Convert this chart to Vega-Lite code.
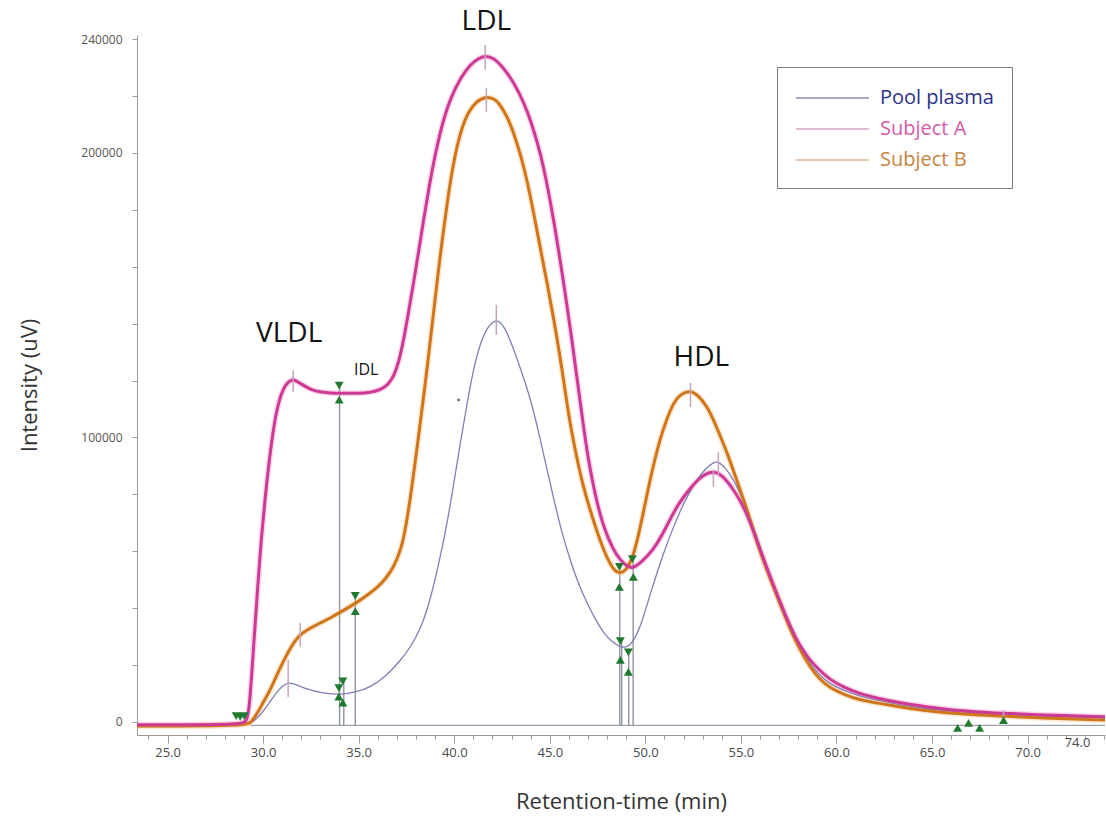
{
  "$schema": "https://vega.github.io/schema/vega-lite/v6.json",
  "width": 968,
  "height": 700,
  "autosize": "none",
  "padding": {"left": 137, "top": 35, "right": 1, "bottom": 96},
  "background": "white",
  "config": {"view": {"stroke": null}, "font": "Open Sans"},
  "datasets": {
    "curves": [
      {"s": "Pool plasma", "t": 23.4, "v": -1000}, {"s": "Pool plasma", "t": 29.11, "v": -1000}, {"s": "Pool plasma", "t": 29.48, "v": 0}, {"s": "Pool plasma", "t": 29.9, "v": 2800}, {"s": "Pool plasma", "t": 30.31, "v": 6700}, {"s": "Pool plasma", "t": 30.68, "v": 10200}, {"s": "Pool plasma", "t": 31.04, "v": 12900}, {"s": "Pool plasma", "t": 31.36, "v": 14000}, {"s": "Pool plasma", "t": 31.72, "v": 13200}, {"s": "Pool plasma", "t": 32.25, "v": 11600}, {"s": "Pool plasma", "t": 33.03, "v": 10200}, {"s": "Pool plasma", "t": 34.07, "v": 9500}, {"s": "Pool plasma", "t": 34.86, "v": 10500}, {"s": "Pool plasma", "t": 35.64, "v": 12300}, {"s": "Pool plasma", "t": 36.42, "v": 16000}, {"s": "Pool plasma", "t": 37.21, "v": 21800}, {"s": "Pool plasma", "t": 37.73, "v": 26500}, {"s": "Pool plasma", "t": 38.25, "v": 33000}, {"s": "Pool plasma", "t": 38.62, "v": 40100}, {"s": "Pool plasma", "t": 38.98, "v": 49500}, {"s": "Pool plasma", "t": 39.3, "v": 59000}, {"s": "Pool plasma", "t": 39.66, "v": 71000}, {"s": "Pool plasma", "t": 39.97, "v": 83500}, {"s": "Pool plasma", "t": 40.34, "v": 99000}, {"s": "Pool plasma", "t": 40.71, "v": 113500}, {"s": "Pool plasma", "t": 41.02, "v": 124500}, {"s": "Pool plasma", "t": 41.38, "v": 133500}, {"s": "Pool plasma", "t": 41.75, "v": 139000}, {"s": "Pool plasma", "t": 42.22, "v": 142000}, {"s": "Pool plasma", "t": 42.64, "v": 139000}, {"s": "Pool plasma", "t": 43.11, "v": 131000}, {"s": "Pool plasma", "t": 43.53, "v": 123000}, {"s": "Pool plasma", "t": 43.99, "v": 113500}, {"s": "Pool plasma", "t": 44.36, "v": 103500}, {"s": "Pool plasma", "t": 44.78, "v": 91000}, {"s": "Pool plasma", "t": 45.2, "v": 78500}, {"s": "Pool plasma", "t": 45.61, "v": 67000}, {"s": "Pool plasma", "t": 46.08, "v": 56500}, {"s": "Pool plasma", "t": 46.5, "v": 48500}, {"s": "Pool plasma", "t": 46.97, "v": 41500}, {"s": "Pool plasma", "t": 47.39, "v": 36000}, {"s": "Pool plasma", "t": 47.81, "v": 31300}, {"s": "Pool plasma", "t": 48.28, "v": 28000}, {"s": "Pool plasma", "t": 48.69, "v": 26200}, {"s": "Pool plasma", "t": 49.06, "v": 26200}, {"s": "Pool plasma", "t": 49.37, "v": 28300}, {"s": "Pool plasma", "t": 49.74, "v": 33400}, {"s": "Pool plasma", "t": 50.1, "v": 41500}, {"s": "Pool plasma", "t": 50.52, "v": 50600}, {"s": "Pool plasma", "t": 50.94, "v": 59200}, {"s": "Pool plasma", "t": 51.41, "v": 67500}, {"s": "Pool plasma", "t": 51.83, "v": 74300}, {"s": "Pool plasma", "t": 52.25, "v": 80100}, {"s": "Pool plasma", "t": 52.72, "v": 85300}, {"s": "Pool plasma", "t": 53.13, "v": 89000}, {"s": "Pool plasma", "t": 53.55, "v": 91200}, {"s": "Pool plasma", "t": 53.81, "v": 91600}, {"s": "Pool plasma", "t": 54.18, "v": 89500}, {"s": "Pool plasma", "t": 54.6, "v": 85300}, {"s": "Pool plasma", "t": 54.96, "v": 80500}, {"s": "Pool plasma", "t": 55.33, "v": 74500}, {"s": "Pool plasma", "t": 56.01, "v": 61500}, {"s": "Pool plasma", "t": 56.53, "v": 51300}, {"s": "Pool plasma", "t": 57.05, "v": 41800}, {"s": "Pool plasma", "t": 57.57, "v": 33400}, {"s": "Pool plasma", "t": 58.09, "v": 26200}, {"s": "Pool plasma", "t": 58.62, "v": 20400}, {"s": "Pool plasma", "t": 59.14, "v": 16200}, {"s": "Pool plasma", "t": 59.66, "v": 13400}, {"s": "Pool plasma", "t": 60.34, "v": 11200}, {"s": "Pool plasma", "t": 61.23, "v": 9100}, {"s": "Pool plasma", "t": 62.12, "v": 7700}, {"s": "Pool plasma", "t": 63.32, "v": 6000}, {"s": "Pool plasma", "t": 64.73, "v": 4600}, {"s": "Pool plasma", "t": 66.45, "v": 3500}, {"s": "Pool plasma", "t": 68.54, "v": 2800}, {"s": "Pool plasma", "t": 70.63, "v": 2100}, {"s": "Pool plasma", "t": 74.05, "v": 1400},

      {"s": "Subject B", "t": 23.4, "v": -1400}, {"s": "Subject B", "t": 26.76, "v": -1400}, {"s": "Subject B", "t": 29.11, "v": -1000}, {"s": "Subject B", "t": 29.37, "v": -350}, {"s": "Subject B", "t": 29.79, "v": 4200}, {"s": "Subject B", "t": 30.0, "v": 6900}, {"s": "Subject B", "t": 30.42, "v": 11800}, {"s": "Subject B", "t": 30.84, "v": 18500}, {"s": "Subject B", "t": 31.36, "v": 25300}, {"s": "Subject B", "t": 31.67, "v": 28600}, {"s": "Subject B", "t": 31.98, "v": 31000}, {"s": "Subject B", "t": 32.51, "v": 33200}, {"s": "Subject B", "t": 33.03, "v": 34900}, {"s": "Subject B", "t": 33.55, "v": 36700}, {"s": "Subject B", "t": 34.07, "v": 38700}, {"s": "Subject B", "t": 34.86, "v": 41800}, {"s": "Subject B", "t": 35.38, "v": 44200}, {"s": "Subject B", "t": 36.01, "v": 47500}, {"s": "Subject B", "t": 36.42, "v": 50400}, {"s": "Subject B", "t": 36.84, "v": 54500}, {"s": "Subject B", "t": 37.21, "v": 60500}, {"s": "Subject B", "t": 37.47, "v": 68500}, {"s": "Subject B", "t": 37.73, "v": 80000}, {"s": "Subject B", "t": 37.99, "v": 93000}, {"s": "Subject B", "t": 38.2, "v": 104000}, {"s": "Subject B", "t": 38.41, "v": 115000}, {"s": "Subject B", "t": 38.62, "v": 126500}, {"s": "Subject B", "t": 38.77, "v": 135500}, {"s": "Subject B", "t": 38.98, "v": 147500}, {"s": "Subject B", "t": 39.14, "v": 157000}, {"s": "Subject B", "t": 39.4, "v": 171000}, {"s": "Subject B", "t": 39.66, "v": 184000}, {"s": "Subject B", "t": 39.92, "v": 195000}, {"s": "Subject B", "t": 40.18, "v": 203500}, {"s": "Subject B", "t": 40.44, "v": 209500}, {"s": "Subject B", "t": 40.71, "v": 214000}, {"s": "Subject B", "t": 41.12, "v": 218000}, {"s": "Subject B", "t": 41.7, "v": 220000}, {"s": "Subject B", "t": 42.17, "v": 218800}, {"s": "Subject B", "t": 42.43, "v": 216600}, {"s": "Subject B", "t": 42.79, "v": 212500}, {"s": "Subject B", "t": 43.11, "v": 207000}, {"s": "Subject B", "t": 43.47, "v": 199500}, {"s": "Subject B", "t": 43.84, "v": 189500}, {"s": "Subject B", "t": 44.15, "v": 179000}, {"s": "Subject B", "t": 44.52, "v": 166000}, {"s": "Subject B", "t": 44.88, "v": 153500}, {"s": "Subject B", "t": 45.14, "v": 144000}, {"s": "Subject B", "t": 45.4, "v": 134000}, {"s": "Subject B", "t": 45.61, "v": 125000}, {"s": "Subject B", "t": 45.82, "v": 115500}, {"s": "Subject B", "t": 46.08, "v": 104000}, {"s": "Subject B", "t": 46.45, "v": 91500}, {"s": "Subject B", "t": 46.76, "v": 82500}, {"s": "Subject B", "t": 47.13, "v": 74000}, {"s": "Subject B", "t": 47.49, "v": 66500}, {"s": "Subject B", "t": 47.81, "v": 60500}, {"s": "Subject B", "t": 48.17, "v": 55200}, {"s": "Subject B", "t": 48.54, "v": 52000}, {"s": "Subject B", "t": 48.96, "v": 52800}, {"s": "Subject B", "t": 49.37, "v": 58000}, {"s": "Subject B", "t": 49.74, "v": 68500}, {"s": "Subject B", "t": 50.1, "v": 80500}, {"s": "Subject B", "t": 50.42, "v": 90300}, {"s": "Subject B", "t": 50.78, "v": 99800}, {"s": "Subject B", "t": 51.15, "v": 107000}, {"s": "Subject B", "t": 51.46, "v": 112000}, {"s": "Subject B", "t": 51.83, "v": 115300}, {"s": "Subject B", "t": 52.35, "v": 116600}, {"s": "Subject B", "t": 52.77, "v": 114800}, {"s": "Subject B", "t": 53.24, "v": 110700}, {"s": "Subject B", "t": 53.55, "v": 106500}, {"s": "Subject B", "t": 53.92, "v": 100500}, {"s": "Subject B", "t": 54.28, "v": 94500}, {"s": "Subject B", "t": 54.6, "v": 88500}, {"s": "Subject B", "t": 54.96, "v": 81500}, {"s": "Subject B", "t": 55.33, "v": 74500}, {"s": "Subject B", "t": 55.64, "v": 67500}, {"s": "Subject B", "t": 56.01, "v": 59800}, {"s": "Subject B", "t": 56.53, "v": 50300}, {"s": "Subject B", "t": 57.05, "v": 41500}, {"s": "Subject B", "t": 57.57, "v": 32700}, {"s": "Subject B", "t": 58.09, "v": 25300}, {"s": "Subject B", "t": 58.62, "v": 19300}, {"s": "Subject B", "t": 59.14, "v": 14800}, {"s": "Subject B", "t": 59.66, "v": 12000}, {"s": "Subject B", "t": 60.34, "v": 9800}, {"s": "Subject B", "t": 61.23, "v": 7700}, {"s": "Subject B", "t": 62.12, "v": 6700}, {"s": "Subject B", "t": 63.32, "v": 5300}, {"s": "Subject B", "t": 64.73, "v": 3900}, {"s": "Subject B", "t": 66.45, "v": 2800}, {"s": "Subject B", "t": 68.54, "v": 2100}, {"s": "Subject B", "t": 70.63, "v": 1400}, {"s": "Subject B", "t": 74.05, "v": 700},

      {"s": "Subject A", "t": 23.4, "v": -1000}, {"s": "Subject A", "t": 26.76, "v": -1000}, {"s": "Subject A", "t": 28.85, "v": -700}, {"s": "Subject A", "t": 29.11, "v": 0}, {"s": "Subject A", "t": 29.27, "v": 3000}, {"s": "Subject A", "t": 29.53, "v": 29500}, {"s": "Subject A", "t": 29.74, "v": 50000}, {"s": "Subject A", "t": 29.9, "v": 64000}, {"s": "Subject A", "t": 30.1, "v": 78500}, {"s": "Subject A", "t": 30.26, "v": 88500}, {"s": "Subject A", "t": 30.57, "v": 105500}, {"s": "Subject A", "t": 30.94, "v": 116000}, {"s": "Subject A", "t": 31.31, "v": 119800}, {"s": "Subject A", "t": 31.62, "v": 120500}, {"s": "Subject A", "t": 31.98, "v": 118800}, {"s": "Subject A", "t": 32.51, "v": 116700}, {"s": "Subject A", "t": 33.03, "v": 115900}, {"s": "Subject A", "t": 33.55, "v": 115600}, {"s": "Subject A", "t": 34.07, "v": 115500}, {"s": "Subject A", "t": 34.86, "v": 115500}, {"s": "Subject A", "t": 35.64, "v": 115800}, {"s": "Subject A", "t": 36.16, "v": 116800}, {"s": "Subject A", "t": 36.53, "v": 118500}, {"s": "Subject A", "t": 36.84, "v": 121500}, {"s": "Subject A", "t": 37.1, "v": 126500}, {"s": "Subject A", "t": 37.36, "v": 134500}, {"s": "Subject A", "t": 37.62, "v": 144500}, {"s": "Subject A", "t": 37.89, "v": 155000}, {"s": "Subject A", "t": 38.15, "v": 166000}, {"s": "Subject A", "t": 38.41, "v": 177000}, {"s": "Subject A", "t": 38.67, "v": 187500}, {"s": "Subject A", "t": 38.93, "v": 197000}, {"s": "Subject A", "t": 39.19, "v": 205000}, {"s": "Subject A", "t": 39.45, "v": 212000}, {"s": "Subject A", "t": 39.82, "v": 219500}, {"s": "Subject A", "t": 40.34, "v": 226500}, {"s": "Subject A", "t": 40.86, "v": 231200}, {"s": "Subject A", "t": 41.28, "v": 233300}, {"s": "Subject A", "t": 41.65, "v": 234200}, {"s": "Subject A", "t": 42.06, "v": 233300}, {"s": "Subject A", "t": 42.43, "v": 231000}, {"s": "Subject A", "t": 42.95, "v": 226500}, {"s": "Subject A", "t": 43.37, "v": 221500}, {"s": "Subject A", "t": 43.84, "v": 214500}, {"s": "Subject A", "t": 44.2, "v": 207000}, {"s": "Subject A", "t": 44.52, "v": 199500}, {"s": "Subject A", "t": 44.78, "v": 191500}, {"s": "Subject A", "t": 45.04, "v": 182500}, {"s": "Subject A", "t": 45.3, "v": 172500}, {"s": "Subject A", "t": 45.56, "v": 161500}, {"s": "Subject A", "t": 45.82, "v": 150000}, {"s": "Subject A", "t": 46.08, "v": 138000}, {"s": "Subject A", "t": 46.5, "v": 117000}, {"s": "Subject A", "t": 46.76, "v": 104000}, {"s": "Subject A", "t": 46.97, "v": 94000}, {"s": "Subject A", "t": 47.39, "v": 79000}, {"s": "Subject A", "t": 47.81, "v": 68500}, {"s": "Subject A", "t": 48.28, "v": 61000}, {"s": "Subject A", "t": 48.69, "v": 56800}, {"s": "Subject A", "t": 49.06, "v": 54600}, {"s": "Subject A", "t": 49.32, "v": 54000}, {"s": "Subject A", "t": 49.74, "v": 55800}, {"s": "Subject A", "t": 50.42, "v": 60500}, {"s": "Subject A", "t": 50.89, "v": 65800}, {"s": "Subject A", "t": 51.31, "v": 71500}, {"s": "Subject A", "t": 51.72, "v": 76500}, {"s": "Subject A", "t": 52.19, "v": 80800}, {"s": "Subject A", "t": 52.61, "v": 84200}, {"s": "Subject A", "t": 53.03, "v": 86800}, {"s": "Subject A", "t": 53.55, "v": 88200}, {"s": "Subject A", "t": 54.02, "v": 86800}, {"s": "Subject A", "t": 54.6, "v": 81800}, {"s": "Subject A", "t": 54.96, "v": 77800}, {"s": "Subject A", "t": 55.33, "v": 72800}, {"s": "Subject A", "t": 55.64, "v": 67500}, {"s": "Subject A", "t": 56.01, "v": 60500}, {"s": "Subject A", "t": 56.53, "v": 51000}, {"s": "Subject A", "t": 57.05, "v": 42200}, {"s": "Subject A", "t": 57.57, "v": 33600}, {"s": "Subject A", "t": 58.09, "v": 26600}, {"s": "Subject A", "t": 58.62, "v": 21600}, {"s": "Subject A", "t": 59.14, "v": 18000}, {"s": "Subject A", "t": 59.66, "v": 14900}, {"s": "Subject A", "t": 60.34, "v": 12300}, {"s": "Subject A", "t": 61.23, "v": 9900}, {"s": "Subject A", "t": 62.12, "v": 8400}, {"s": "Subject A", "t": 63.32, "v": 6700}, {"s": "Subject A", "t": 64.73, "v": 5300}, {"s": "Subject A", "t": 66.45, "v": 3900}, {"s": "Subject A", "t": 68.17, "v": 3200}, {"s": "Subject A", "t": 70.63, "v": 2500}, {"s": "Subject A", "t": 74.05, "v": 1800}
    ],
    "keys": [{"series": "Pool plasma"}, {"series": "Subject A"}, {"series": "Subject B"}],
    "baseline": [{"t": 29.3, "t2": 74.05, "v": -1200}],
    "drops": [
      {"t": 34.0, "v": -1200, "v2": 119000},
      {"t": 34.22, "v": -1200, "v2": 14000},
      {"t": 34.82, "v": -1200, "v2": 45000},
      {"t": 48.66, "v": -1200, "v2": 55500},
      {"t": 48.76, "v": -1200, "v2": 29000},
      {"t": 49.13, "v": -1200, "v2": 25500},
      {"t": 49.36, "v": -1200, "v2": 58000}
    ],
    "peaks": [
      {"t": 31.57, "v": 116000, "v2": 123500},
      {"t": 31.31, "v": 8800, "v2": 21800},
      {"t": 31.94, "v": 26400, "v2": 34800},
      {"t": 41.62, "v": 229200, "v2": 238000},
      {"t": 41.68, "v": 214400, "v2": 222900},
      {"t": 42.2, "v": 136000, "v2": 146600},
      {"t": 52.36, "v": 110700, "v2": 119200},
      {"t": 53.82, "v": 86800, "v2": 94900},
      {"t": 53.56, "v": 82600, "v2": 88600},
      {"t": 68.74, "v": 700, "v2": 4200}
    ],
    "markers": [
      {"t": 28.59, "v": 2100, "dir": "down"},
      {"t": 28.8, "v": 1800, "dir": "down"},
      {"t": 29.01, "v": 2100, "dir": "down"},
      {"t": 33.98, "v": 118200, "dir": "down"},
      {"t": 33.98, "v": 113300, "dir": "up"},
      {"t": 34.17, "v": 14300, "dir": "down"},
      {"t": 33.96, "v": 11900, "dir": "down"},
      {"t": 33.96, "v": 8900, "dir": "up"},
      {"t": 34.17, "v": 6800, "dir": "up"},
      {"t": 34.82, "v": 44300, "dir": "down"},
      {"t": 34.82, "v": 39000, "dir": "up"},
      {"t": 48.64, "v": 54500, "dir": "down"},
      {"t": 48.64, "v": 47500, "dir": "up"},
      {"t": 49.32, "v": 57200, "dir": "down"},
      {"t": 49.37, "v": 51000, "dir": "up"},
      {"t": 48.69, "v": 28400, "dir": "down"},
      {"t": 48.69, "v": 21800, "dir": "up"},
      {"t": 49.11, "v": 24500, "dir": "down"},
      {"t": 49.11, "v": 17600, "dir": "up"},
      {"t": 66.34, "v": -2100, "dir": "up"},
      {"t": 66.91, "v": -350, "dir": "up"},
      {"t": 67.49, "v": -2100, "dir": "up"},
      {"t": 68.74, "v": 700, "dir": "up"}
    ],
    "labels": [
      {"t": 41.68, "v": 246000, "text": "LDL", "size": 28},
      {"t": 31.36, "v": 136400, "text": "VLDL", "size": 28},
      {"t": 35.39, "v": 123700, "text": "IDL", "size": 16},
      {"t": 52.93, "v": 127900, "text": "HDL", "size": 28}
    ],
    "dot": [{"t": 40.23, "v": 113200}]
  },
  "encoding": {
    "x": {
      "field": "t",
      "type": "quantitative",
      "scale": {"domain": [23.4, 74.05], "nice": false, "zero": false},
      "axis": {
        "title": "Retention-time (min)",
        "values": [24, 25, 26, 27, 28, 29, 30, 31, 32, 33, 34, 35, 36, 37, 38, 39, 40, 41, 42, 43, 44, 45, 46, 47, 48, 49, 50, 51, 52, 53, 54, 55, 56, 57, 58, 59, 60, 61, 62, 63, 64, 65, 66, 67, 68, 69, 70, 71, 72, 73, 74],
        "labelExpr": "datum.value % 5 === 0 || datum.value === 74 ? format(datum.value, '.1f') : ''",
        "tickSize": {"condition": {"test": "datum.value % 5 === 0", "value": 8}, "value": 4},
        "labelOffset": {"condition": {"test": "datum.value === 74", "value": -27}, "value": 0},
        "labelPadding": {"condition": {"test": "datum.value === 74", "value": -3}, "value": 3},
        "labelFlush": false,
        "labelOverlap": false,
        "grid": false,
        "domainColor": "#9a9a9a",
        "tickColor": "#9a9a9a",
        "labelColor": "#4a4a4a",
        "labelFont": "Open Sans",
        "labelFontSize": 13,
        "titleFont": "Open Sans",
        "titleFontSize": 22,
        "titleFontWeight": "normal",
        "titleColor": "#333333",
        "titlePadding": 32
      }
    },
    "y": {
      "field": "v",
      "type": "quantitative",
      "scale": {"domain": [-4570, 241430], "nice": false, "zero": false},
      "axis": {
        "title": "Intensity (uV)",
        "values": [0, 20000, 40000, 60000, 80000, 100000, 120000, 140000, 160000, 180000, 200000, 220000, 240000],
        "labelExpr": "indexof([0, 100000, 200000, 240000], datum.value) >= 0 ? format(datum.value, 'd') : ''",
        "tickSize": 5,
        "labelPadding": 10,
        "grid": false,
        "domainColor": "#9a9a9a",
        "tickColor": "#9a9a9a",
        "labelColor": "#555555",
        "labelFont": "Open Sans",
        "labelFontSize": 12,
        "titleFont": "Open Sans",
        "titleFontSize": 22,
        "titleFontWeight": "normal",
        "titleColor": "#333333",
        "titlePadding": 39
      }
    }
  },
  "layer": [
    {
      "data": {"name": "baseline"},
      "mark": {"type": "rule", "color": "#9aa0ae", "strokeWidth": 1.2},
      "encoding": {"x2": {"field": "t2"}}
    },
    {
      "data": {"name": "drops"},
      "mark": {"type": "rule", "color": "#8e94a2", "strokeWidth": 1.4},
      "encoding": {"y2": {"field": "v2"}}
    },
    {
      "data": {"name": "curves"},
      "transform": [{"filter": "datum.s === 'Subject A'"}],
      "mark": {"type": "line", "interpolate": "basis", "strokeWidth": 6, "opacity": 0.35, "color": "#f08cc8"}
    },
    {
      "data": {"name": "curves"},
      "transform": [{"filter": "datum.s === 'Subject B'"}],
      "mark": {"type": "line", "interpolate": "basis", "strokeWidth": 6, "opacity": 0.35, "color": "#f5b870"}
    },
    {
      "data": {"name": "curves"},
      "transform": [{"filter": "datum.s === 'Pool plasma'"}],
      "mark": {"type": "line", "interpolate": "basis", "strokeWidth": 1.3, "color": "#7f7fb5"}
    },
    {
      "data": {"name": "curves"},
      "transform": [{"filter": "datum.s === 'Subject B'"}],
      "mark": {"type": "line", "interpolate": "basis", "strokeWidth": 3, "color": "#cf761c"}
    },
    {
      "data": {"name": "curves"},
      "transform": [{"filter": "datum.s === 'Subject A'"}],
      "mark": {"type": "line", "interpolate": "basis", "strokeWidth": 3, "color": "#cc3a94"}
    },
    {
      "data": {"name": "keys"},
      "mark": {"type": "line", "strokeWidth": 1.5},
      "encoding": {
        "color": {
          "field": "series",
          "type": "nominal",
          "scale": {"domain": ["Pool plasma", "Subject A", "Subject B"], "range": ["#8c8cb4", "#d6a0c6", "#d9b38e"]},
          "legend": {
            "title": null,
            "orient": "none",
            "legendX": 640,
            "legendY": 32,
            "fillColor": "white",
            "strokeColor": "#7a7a7a",
            "padding": 18,
            "symbolType": "M-1,0H5",
            "symbolSize": 592,
            "symbolStrokeWidth": 1.5,
            "symbolOpacity": 1,
            "labelFont": "Open Sans",
            "labelFontSize": 20,
            "labelOffset": 59,
            "rowPadding": 8,
            "encode": {
              "labels": {"update": {"fill": {"signal": "datum.value === 'Pool plasma' ? '#2d318c' : datum.value === 'Subject A' ? '#d35aa8' : '#c98440'"}}}
            }
          }
        }
      }
    },
    {
      "data": {"name": "peaks"},
      "mark": {"type": "rule", "color": "#c4a6bc", "strokeWidth": 1.5},
      "encoding": {"y2": {"field": "v2"}}
    },
    {
      "data": {"name": "markers"},
      "mark": {"type": "point", "filled": true, "size": 80, "color": "#1f7a30", "opacity": 1},
      "encoding": {
        "shape": {
          "field": "dir",
          "type": "nominal",
          "scale": {"domain": ["down", "up"], "range": ["triangle-down", "triangle-up"]},
          "legend": null
        }
      }
    },
    {
      "data": {"name": "dot"},
      "mark": {"type": "point", "filled": true, "size": 8, "color": "#222222"}
    },
    {
      "data": {"name": "labels"},
      "mark": {"type": "text", "font": "Open Sans", "color": "#111111", "baseline": "middle", "align": "center"},
      "encoding": {
        "text": {"field": "text"},
        "size": {"field": "size", "type": "quantitative", "scale": null}
      }
    }
  ]
}
